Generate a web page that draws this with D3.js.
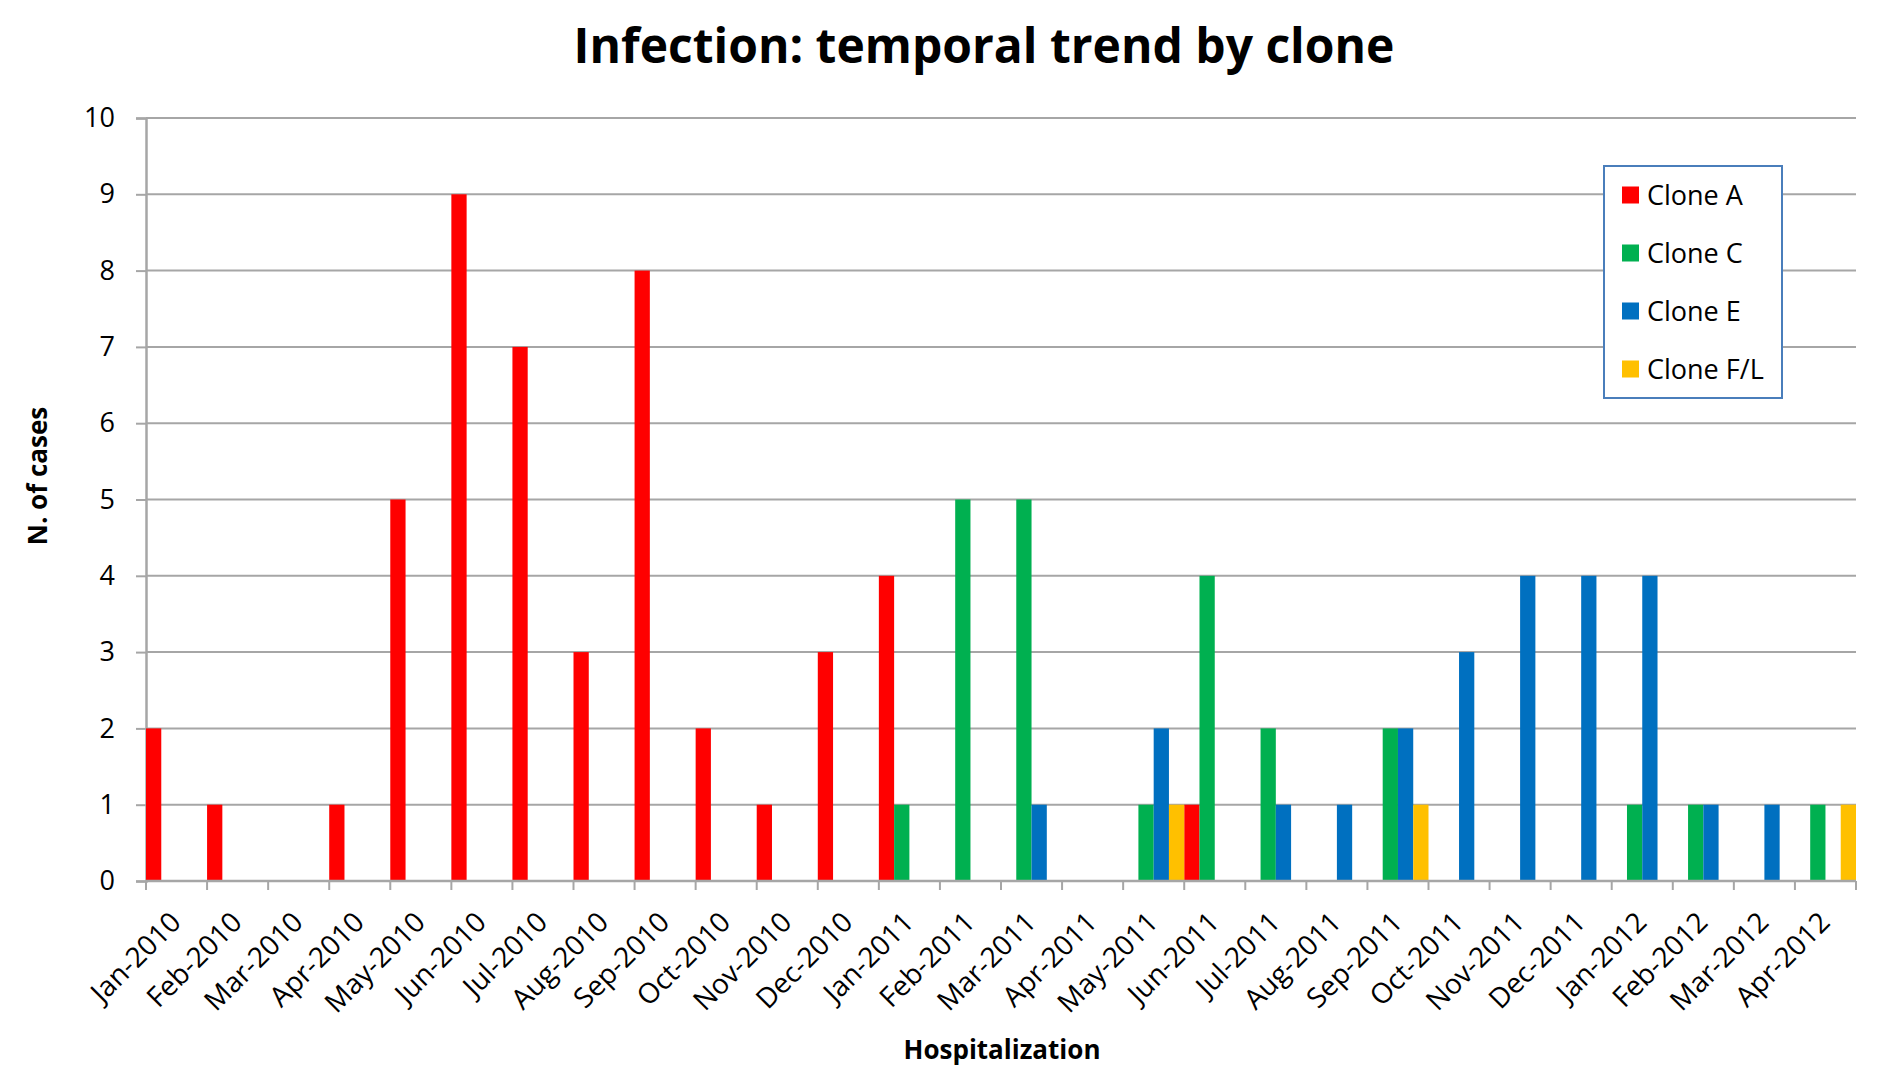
<!DOCTYPE html>
<html>
<head>
<meta charset="utf-8">
<script src="https://cdn.jsdelivr.net/npm/d3@7"></script>
<style>
  body { margin: 0; background: #fff; }
  text { font-family: "Open Sans", sans-serif; fill: #000; }
</style>
</head>
<body>
<svg id="chart" width="1890" height="1083"></svg>
<script>
const months = ["Jan-2010", "Feb-2010", "Mar-2010", "Apr-2010", "May-2010", "Jun-2010", "Jul-2010",
  "Aug-2010", "Sep-2010", "Oct-2010", "Nov-2010", "Dec-2010", "Jan-2011", "Feb-2011", "Mar-2011",
  "Apr-2011", "May-2011", "Jun-2011", "Jul-2011", "Aug-2011", "Sep-2011", "Oct-2011", "Nov-2011",
  "Dec-2011", "Jan-2012", "Feb-2012", "Mar-2012", "Apr-2012"];
const seriesNames = ["Clone A", "Clone C", "Clone E", "Clone F/L"];
const cloneA = [2, 1, 0, 1, 5, 9, 7, 3, 8, 2, 1, 3, 4, 0, 0, 0, 0, 1, 0, 0, 0, 0, 0, 0, 0, 0, 0, 0];
const cloneC = [0, 0, 0, 0, 0, 0, 0, 0, 0, 0, 0, 0, 1, 5, 5, 0, 1, 4, 2, 0, 2, 0, 0, 0, 1, 1, 0, 1];
const cloneE = [0, 0, 0, 0, 0, 0, 0, 0, 0, 0, 0, 0, 0, 0, 1, 0, 2, 0, 1, 1, 2, 3, 4, 4, 4, 1, 1, 0];
const cloneFL = [0, 0, 0, 0, 0, 0, 0, 0, 0, 0, 0, 0, 0, 0, 0, 0, 1, 0, 0, 0, 1, 0, 0, 0, 0, 0, 0, 1];
const yTicks = [0, 1, 2, 3, 4, 5, 6, 7, 8, 9, 10];
const colors = ["#ff0000", "#00b050", "#0070c0", "#ffc000"];

const svg = d3.select("#chart");
const plotLeft = 146, plotRight = 1856, plotTop = 118, plotBottom = 881;
const gridColor = "#a6a6a6";

const x = d3.scaleBand().domain(months).range([plotLeft, plotRight]).padding(0);
const xInner = d3.scaleBand().domain(seriesNames).range([0, x.bandwidth()]).padding(0);
const y = d3.scaleLinear().domain([0, 10]).range([plotBottom, plotTop]);

// title
svg.append("text")
  .attr("x", 984)
  .attr("y", 63)
  .attr("text-anchor", "middle")
  .style("font-size", "48px")
  .style("font-weight", "bold")
  .text("Infection: temporal trend by clone");

// gridlines
svg.selectAll(".grid")
  .data(yTicks.filter(function (d) { return d > 0; }))
  .enter()
  .append("line")
  .attr("x1", plotLeft)
  .attr("x2", plotRight)
  .attr("y1", function (d) { return y(d); })
  .attr("y2", function (d) { return y(d); })
  .attr("stroke", gridColor)
  .attr("stroke-width", 2);

// y axis
const yAxis = svg.append("g")
  .attr("transform", "translate(" + plotLeft + ",0)")
  .call(d3.axisLeft(y).tickValues(yTicks).tickSize(10).tickPadding(21));
yAxis.select(".domain").attr("stroke", gridColor).attr("stroke-width", 2.5);
yAxis.selectAll(".tick line").attr("stroke", gridColor).attr("stroke-width", 2);
yAxis.selectAll(".tick text")
  .style("font-size", "27px")
  .style("font-family", "'Open Sans', sans-serif");

// bars
const series = [cloneA, cloneC, cloneE, cloneFL];
series.forEach(function (vals, s) {
  const pts = vals
    .map(function (v, i) { return { month: months[i], value: v }; })
    .filter(function (d) { return d.value > 0; });
  svg.selectAll(".bar" + s)
    .data(pts)
    .enter()
    .append("rect")
    .attr("x", function (d) { return x(d.month) + xInner(seriesNames[s]); })
    .attr("y", function (d) { return y(d.value); })
    .attr("width", xInner.bandwidth())
    .attr("height", function (d) { return plotBottom - y(d.value); })
    .attr("fill", colors[s]);
});

// x axis line + ticks at category boundaries
svg.append("line")
  .attr("x1", plotLeft)
  .attr("x2", plotRight)
  .attr("y1", plotBottom)
  .attr("y2", plotBottom)
  .attr("stroke", gridColor)
  .attr("stroke-width", 2.5);
svg.selectAll(".xtick")
  .data(months.concat(["end"]))
  .enter()
  .append("line")
  .attr("x1", function (d, i) { return plotLeft + i * x.step(); })
  .attr("x2", function (d, i) { return plotLeft + i * x.step(); })
  .attr("y1", plotBottom)
  .attr("y2", plotBottom + 9)
  .attr("stroke", gridColor)
  .attr("stroke-width", 2);

// x labels, rotated
svg.selectAll(".xlabel")
  .data(months)
  .enter()
  .append("text")
  .attr("transform", function (d) {
    return "translate(" + (x(d) + x.bandwidth() / 2 + 6) + "," + (plotBottom + 43) + ") rotate(-45)";
  })
  .attr("text-anchor", "end")
  .style("font-size", "28px")
  .text(function (d) { return d; });

// axis titles
svg.append("text")
  .attr("transform", "translate(47,476) rotate(-90)")
  .attr("text-anchor", "middle")
  .style("font-size", "26px")
  .style("font-weight", "bold")
  .text("N. of cases");

svg.append("text")
  .attr("x", 1002)
  .attr("y", 1059)
  .attr("text-anchor", "middle")
  .style("font-size", "26px")
  .style("font-weight", "bold")
  .text("Hospitalization");

// legend
const legend = svg.append("g");
legend.append("rect")
  .attr("x", 1604)
  .attr("y", 166)
  .attr("width", 178)
  .attr("height", 232)
  .attr("fill", "#fff")
  .attr("stroke", "#4a7ebb")
  .attr("stroke-width", 2);
legend.selectAll(".swatch")
  .data(seriesNames)
  .enter()
  .append("rect")
  .attr("x", 1622)
  .attr("y", function (d, i) { return 195 + i * 58 - 8.5; })
  .attr("width", 17)
  .attr("height", 17)
  .style("fill", function (d, i) { return colors[i]; });
legend.selectAll(".ltext")
  .data(seriesNames)
  .enter()
  .append("text")
  .attr("x", 1647)
  .attr("y", function (d, i) { return 195 + i * 58; })
  .attr("dy", "0.36em")
  .style("font-size", "27px")
  .text(function (d) { return d; });
</script>
</body>
</html>
